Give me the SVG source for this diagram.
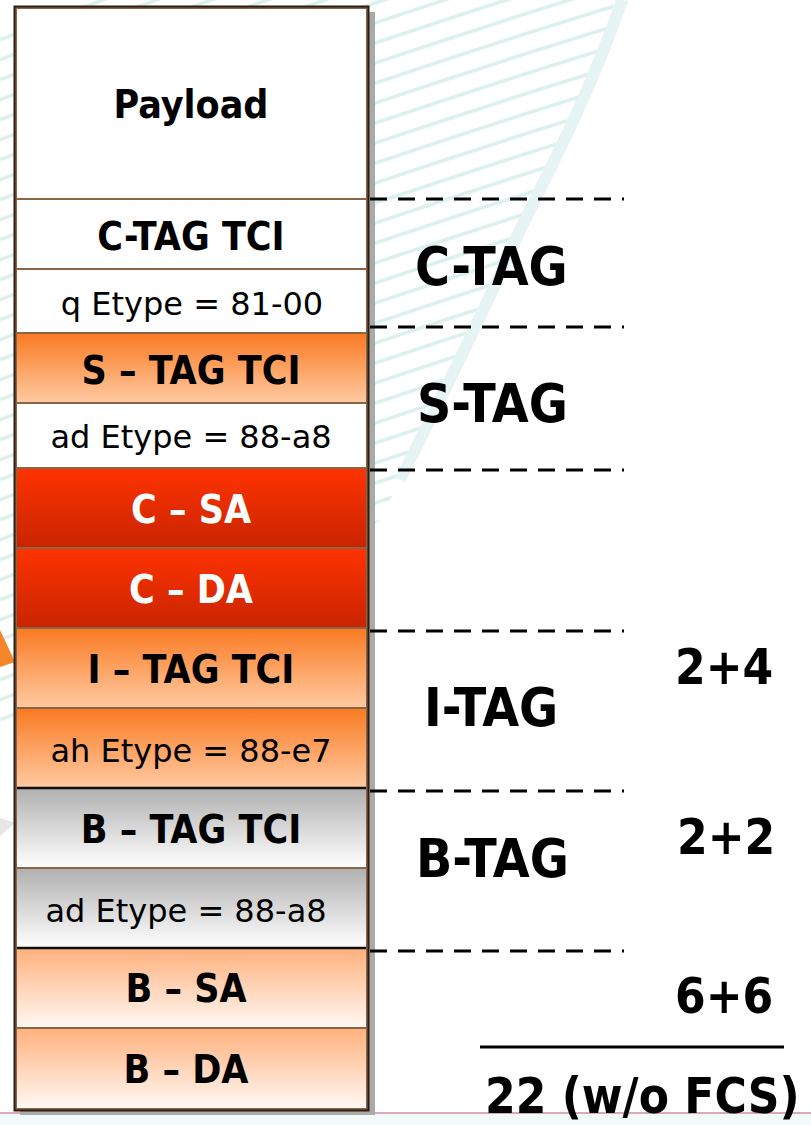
<svg xmlns="http://www.w3.org/2000/svg" width="811" height="1125" viewBox="0 0 811 1125">
<defs>
<style>
.b{font-family:"DejaVu Sans Condensed","DejaVu Sans",sans-serif;font-stretch:condensed;font-weight:bold;font-size:39px;text-anchor:middle;fill:#000}
.n{font-family:"DejaVu Sans",sans-serif;font-weight:normal;font-size:32px;text-anchor:middle;fill:#000}
.w{fill:#fff}
.big{font-family:"DejaVu Sans Condensed","DejaVu Sans",sans-serif;font-stretch:condensed;font-weight:bold;font-size:53px;fill:#000}
.num{font-family:"DejaVu Sans Condensed","DejaVu Sans",sans-serif;font-stretch:condensed;font-weight:bold;font-size:49px;fill:#000}
.row{stroke:#8a6446;stroke-width:2}
.dash{stroke:#000;stroke-width:3;stroke-dasharray:17 11;fill:none}
.sw{stroke:#dcf0ee;stroke-width:3.5;fill:none}
</style>
<linearGradient id="gOr" x1="0" y1="0" x2="0" y2="1"><stop offset="0" stop-color="#fa7a22"/><stop offset="1" stop-color="#ffcaa2"/></linearGradient>
<linearGradient id="gRed" x1="0" y1="0" x2="0" y2="1"><stop offset="0" stop-color="#ff3300"/><stop offset="1" stop-color="#c82400"/></linearGradient>
<linearGradient id="gGr" x1="0" y1="0" x2="0" y2="1"><stop offset="0" stop-color="#b0b0b0"/><stop offset="1" stop-color="#ffffff"/></linearGradient>
<linearGradient id="gPe" x1="0" y1="0" x2="0" y2="1"><stop offset="0" stop-color="#ffb07c"/><stop offset="1" stop-color="#fff8f4"/></linearGradient>
<clipPath id="swc"><path d="M0,0 L628,0 C600,80 560,150 520,230 C480,320 440,400 400,480 L380,520 L0,820 Z"/></clipPath>
</defs>

<g id="background">
<rect x="0" y="0" width="811" height="1125" fill="#fff"/>
<g clip-path="url(#swc)">
<path class="sw" d="M0,40 Q300,-80 700,-200"/>
<path class="sw" d="M0,60 Q300,-60 700,-180"/>
<path class="sw" d="M0,80 Q300,-40 700,-160"/>
<path class="sw" d="M0,100 Q300,-20 700,-140"/>
<path class="sw" d="M0,120 Q300,0 700,-120"/>
<path class="sw" d="M0,140 Q300,20 700,-100"/>
<path class="sw" d="M0,160 Q300,40 700,-80"/>
<path class="sw" d="M0,180 Q300,60 700,-60"/>
<path class="sw" d="M0,200 Q300,80 700,-40"/>
<path class="sw" d="M0,220 Q300,100 700,-20"/>
<path class="sw" d="M0,240 Q300,120 700,0"/>
<path class="sw" d="M0,260 Q300,140 700,20"/>
<path class="sw" d="M0,280 Q300,160 700,40"/>
<path class="sw" d="M0,300 Q300,180 700,60"/>
<path class="sw" d="M0,320 Q300,200 700,80"/>
<path class="sw" d="M0,340 Q300,220 700,100"/>
<path class="sw" d="M0,360 Q300,240 700,120"/>
<path class="sw" d="M0,380 Q300,260 700,140"/>
<path class="sw" d="M0,400 Q300,280 700,160"/>
<path class="sw" d="M0,420 Q300,300 700,180"/>
<path class="sw" d="M0,440 Q300,320 700,200"/>
<path class="sw" d="M0,460 Q300,340 700,220"/>
<path class="sw" d="M0,480 Q300,360 700,240"/>
<path class="sw" d="M0,500 Q300,380 700,260"/>
<path class="sw" d="M0,520 Q300,400 700,280"/>
<path class="sw" d="M0,540 Q300,420 700,300"/>
<path class="sw" d="M0,560 Q300,440 700,320"/>
<path class="sw" d="M0,580 Q300,460 700,340"/>
<path class="sw" d="M0,600 Q300,480 700,360"/>
<path class="sw" d="M0,620 Q300,500 700,380"/>
<path class="sw" d="M0,640 Q300,520 700,400"/>
<path class="sw" d="M0,660 Q300,540 700,420"/>
<path class="sw" d="M0,680 Q300,560 700,440"/>
<path class="sw" d="M0,700 Q300,580 700,460"/>
<path class="sw" d="M0,720 Q300,600 700,480"/>
</g>
<path d="M622,0 C595,80 560,150 520,230 C480,320 440,400 400,480" stroke="#e6f5f3" stroke-width="12" fill="none"/>
<polygon points="0,630 15,662 0,667" fill="#f7862a"/>
<polygon points="0,836 15,823 0,818" fill="#e6e6e6"/>
<rect x="0" y="1114" width="811" height="11" fill="#f2fafa"/>
<line x1="0" y1="1113" x2="811" y2="1113" stroke="#d8a9b8" stroke-width="2"/>
</g>

<g id="shadow">
<rect x="368" y="12" width="7" height="1103" fill="#aaaaaa"/>
<rect x="20" y="1110" width="355" height="5" fill="#aaaaaa"/>
</g>

<g id="frame">
<g id="payload"><rect x="15" y="7" width="353" height="192" fill="#fff"/><text class="b" x="191" y="118">Payload</text></g>
<g id="ctag-tci"><rect x="15" y="199" width="353" height="70" fill="#fff"/><text class="b" x="191" y="250">C-TAG TCI</text></g>
<g id="q-etype"><rect x="15" y="269" width="353" height="64" fill="#fff"/><text class="n" x="192" y="315">q Etype = 81-00</text></g>
<g id="stag-tci"><rect x="15" y="333" width="353" height="70" fill="url(#gOr)"/><text class="b" x="191" y="384">S – TAG TCI</text></g>
<g id="ad-etype-s"><rect x="15" y="403" width="353" height="65" fill="#fff"/><text class="n" x="191" y="448">ad Etype = 88-a8</text></g>
<g id="c-sa"><rect x="15" y="468" width="353" height="80" fill="url(#gRed)"/><text class="b w" x="191" y="523">C – SA</text></g>
<g id="c-da"><rect x="15" y="548" width="353" height="80" fill="url(#gRed)"/><text class="b w" x="191" y="603">C – DA</text></g>
<g id="itag-tci"><rect x="15" y="628" width="353" height="80" fill="url(#gOr)"/><text class="b" x="191" y="683">I – TAG TCI</text></g>
<g id="ah-etype"><rect x="15" y="708" width="353" height="80" fill="url(#gOr)"/><text class="n" x="191" y="762">ah Etype = 88-e7</text></g>
<g id="btag-tci"><rect x="15" y="788" width="353" height="80" fill="url(#gGr)"/><text class="b" x="191" y="843">B – TAG TCI</text></g>
<g id="ad-etype-b"><rect x="15" y="868" width="353" height="80" fill="url(#gGr)"/><text class="n" x="186" y="922">ad Etype = 88-a8</text></g>
<g id="b-sa"><rect x="15" y="948" width="353" height="80" fill="url(#gPe)"/><text class="b" x="186" y="1002">B – SA</text></g>
<g id="b-da"><rect x="15" y="1028" width="353" height="80" fill="url(#gPe)"/><text class="b" x="186" y="1083">B – DA</text></g>
<g id="separators">
<line class="row" x1="15" y1="199" x2="368" y2="199"/>
<line class="row" x1="15" y1="269" x2="368" y2="269"/>
<line class="row" x1="15" y1="333" x2="368" y2="333"/>
<line class="row" x1="15" y1="403" x2="368" y2="403"/>
<line class="row" x1="15" y1="468" x2="368" y2="468"/>
<line class="row" x1="15" y1="548" x2="368" y2="548"/>
<line class="row" x1="15" y1="628" x2="368" y2="628"/>
<line class="row" x1="15" y1="708" x2="368" y2="708"/>
<line x1="15" y1="788" x2="368" y2="788" stroke="#111" stroke-width="2.5"/>
<line class="row" x1="15" y1="868" x2="368" y2="868"/>
<line x1="15" y1="948" x2="368" y2="948" stroke="#111" stroke-width="2.5"/>
<line class="row" x1="15" y1="1028" x2="368" y2="1028"/>
</g>
<rect x="16" y="8" width="351" height="1101" fill="none" stroke="#8a6446" stroke-width="2"/>
<rect x="14.5" y="6.5" width="354" height="1104" fill="none" stroke="#2a1e14" stroke-width="2"/>
</g>

<g id="connectors">
<line class="dash" x1="370" y1="199" x2="624" y2="199"/>
<line class="dash" x1="370" y1="327" x2="624" y2="327"/>
<line class="dash" x1="370" y1="470" x2="624" y2="470"/>
<line class="dash" x1="370" y1="631" x2="624" y2="631"/>
<line class="dash" x1="370" y1="791" x2="624" y2="791"/>
<line class="dash" x1="370" y1="951" x2="624" y2="951"/>
<line x1="480" y1="1047" x2="784" y2="1047" stroke="#000" stroke-width="3"/>
</g>

<g id="labels">
<text class="big" x="415" y="285">C-TAG</text>
<text class="big" x="417" y="422">S-TAG</text>
<text class="big" x="424" y="726">I-TAG</text>
<text class="big" x="416" y="877">B-TAG</text>
<text class="num" x="675" y="684">2+4</text>
<text class="num" x="677" y="854">2+2</text>
<text class="num" x="675" y="1013">6+6</text>
<text class="num" x="485" y="1113">22 (w/o FCS)</text>
</g>
</svg>
